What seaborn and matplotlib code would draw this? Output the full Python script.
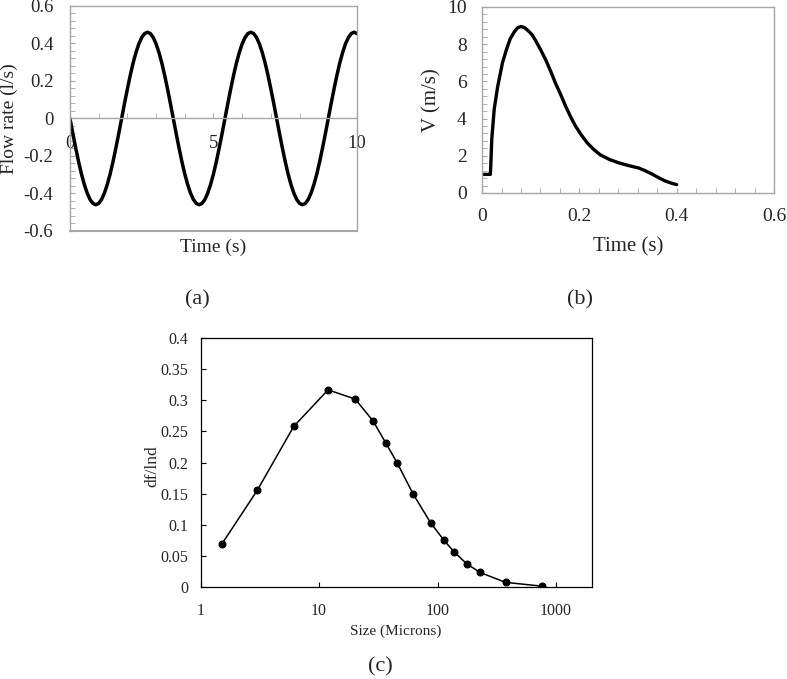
import numpy as np
import pandas as pd
import seaborn as sns
import matplotlib.pyplot as plt
from matplotlib.ticker import MultipleLocator, FuncFormatter, FixedLocator, NullLocator

sns.set_style("ticks")
plt.rcParams['font.family'] = ['Liberation Serif', 'DejaVu Serif']

# (a) oscillating flow rate, read every 0.1 s
time_a = np.round(np.arange(0, 10.01, 0.1), 1)
flow_a = [0, -0.080, -0.157, -0.23, -0.296, -0.352, -0.398, -0.432, -0.453, -0.46, -0.453, -0.432,
          -0.398, -0.352, -0.296, -0.23, -0.157, -0.080,
          0, 0.080, 0.157, 0.23, 0.296, 0.352, 0.398, 0.432, 0.453, 0.46, 0.453, 0.432,
          0.398, 0.352, 0.296, 0.23, 0.157, 0.080,
          0, -0.080, -0.157, -0.23, -0.296, -0.352, -0.398, -0.432, -0.453, -0.46, -0.453, -0.432,
          -0.398, -0.352, -0.296, -0.23, -0.157, -0.080,
          0, 0.080, 0.157, 0.23, 0.296, 0.352, 0.398, 0.432, 0.453, 0.46, 0.453, 0.432,
          0.398, 0.352, 0.296, 0.23, 0.157, 0.080,
          0, -0.080, -0.157, -0.23, -0.296, -0.352, -0.398, -0.432, -0.453, -0.46, -0.453, -0.432,
          -0.398, -0.352, -0.296, -0.23, -0.157, -0.080,
          0, 0.080, 0.157, 0.23, 0.296, 0.352, 0.398, 0.432, 0.453, 0.46, 0.453]

# (b) velocity pulse
time_b = [0.0, 0.017, 0.018, 0.020, 0.025, 0.032, 0.042, 0.050, 0.058, 0.066,
          0.073, 0.080, 0.087, 0.095, 0.103, 0.110, 0.120, 0.131, 0.141, 0.151,
          0.162, 0.172, 0.182, 0.192, 0.204, 0.216, 0.229, 0.243, 0.262, 0.281,
          0.300, 0.322, 0.335, 0.349, 0.363, 0.377, 0.390, 0.400]
vel_b = [1.0, 1.0, 1.5, 2.9, 4.5, 5.7, 7.0, 7.7, 8.3, 8.65,
         8.88, 8.95, 8.9, 8.72, 8.5, 8.2, 7.72, 7.15, 6.55, 5.9,
         5.27, 4.65, 4.1, 3.6, 3.12, 2.7, 2.35, 2.05, 1.8, 1.62,
         1.48, 1.34, 1.2, 1.02, 0.82, 0.64, 0.52, 0.45]

# (c) particle size distribution
size_c = [1.5, 3.0, 6.1, 11.9, 20.2, 28.5, 36.4, 45.7, 62.3, 87.3, 113, 138, 176, 228, 375, 755]
dfl_c = [0.068, 0.155, 0.258, 0.317, 0.302, 0.267, 0.232, 0.199, 0.149, 0.103, 0.075, 0.056,
         0.037, 0.023, 0.007, 0.001]

GRAY = '#a6a6a6'

fig = plt.figure(figsize=(7.87, 6.79), dpi=100)
ax_a = fig.add_axes([0.0889, 0.6598, 0.3647, 0.3314])
ax_b = fig.add_axes([0.6125, 0.7158, 0.371, 0.2739])
ax_c = fig.add_axes([0.255, 0.1359, 0.4968, 0.3659])

# ---- panel (a)
sns.lineplot(x=time_a, y=flow_a, ax=ax_a, color='black', lw=2.5, sort=False)
ax_a.set_xlim(0, 10)
ax_a.set_ylim(-0.6, 0.6)
ax_a.spines['bottom'].set_position(('data', 0))
for s in ax_a.spines.values():
    s.set_color(GRAY)
    s.set_linewidth(1)
ax_a.plot([0, 1], [0, 0], transform=ax_a.transAxes, color=GRAY, lw=1.5, clip_on=False)
ax_a.xaxis.set_major_locator(MultipleLocator(5))
ax_a.xaxis.set_minor_locator(MultipleLocator(1))
ax_a.yaxis.set_major_locator(MultipleLocator(0.2))
ax_a.yaxis.set_minor_locator(MultipleLocator(0.04))
ax_a.yaxis.set_major_formatter(FuncFormatter(lambda v, p: '0' if abs(v) < 1e-9 else f'{v:.1f}'))
ax_a.tick_params(which='both', direction='in', length=3.5, color=GRAY, labelsize=13.5)
ax_a.tick_params(axis='x', which='both', pad=12)
ax_a.tick_params(axis='y', which='both', pad=12)
ax_a.set_xlabel('Time (s)', fontsize=14)
ax_a.set_ylabel('Flow rate (l/s)', fontsize=14)
ax_a.xaxis.set_label_coords(0.5, -0.035)
ax_a.yaxis.set_label_coords(-0.18, 0.5)

# ---- panel (b)
sns.lineplot(x=time_b, y=vel_b, ax=ax_b, color='black', lw=2.4, sort=False)
ax_b.set_xlim(0, 0.6)
ax_b.set_ylim(0, 10)
for s in ax_b.spines.values():
    s.set_color(GRAY)
    s.set_linewidth(1)
ax_b.xaxis.set_major_locator(MultipleLocator(0.2))
ax_b.xaxis.set_minor_locator(MultipleLocator(0.04))
ax_b.yaxis.set_major_locator(MultipleLocator(2))
ax_b.yaxis.set_minor_locator(MultipleLocator(0.4))
ax_b.xaxis.set_major_formatter(FuncFormatter(lambda v, p: '0' if abs(v) < 1e-9 else f'{v:.1f}'))
ax_b.tick_params(which='both', direction='in', length=3.5, color=GRAY, labelsize=14)
ax_b.tick_params(axis='x', which='both', pad=11)
ax_b.tick_params(axis='y', which='both', pad=11)
ax_b.set_xlabel('Time (s)', fontsize=15)
ax_b.set_ylabel('V (m/s)', fontsize=15)
ax_b.xaxis.set_label_coords(0.5, -0.24)
ax_b.yaxis.set_label_coords(-0.138, 0.5)

# ---- panel (c)
df_c = pd.DataFrame({'size': size_c, 'dfl': dfl_c})
sns.lineplot(data=df_c, x='size', y='dfl', ax=ax_c, color='black', lw=1.1,
             marker='o', markersize=5, markeredgecolor='black')
ax_c.set_xscale('log')
ax_c.set_xlim(1, 2000)
ax_c.set_ylim(0, 0.4)
for s in ax_c.spines.values():
    s.set_color('black')
    s.set_linewidth(0.9)
ax_c.xaxis.set_major_locator(FixedLocator([1, 10, 100, 1000]))
ax_c.xaxis.set_minor_locator(NullLocator())
ax_c.xaxis.set_major_formatter(FuncFormatter(lambda v, p: f'{v:g}'))
ax_c.yaxis.set_major_locator(MultipleLocator(0.05))
ax_c.yaxis.set_major_formatter(FuncFormatter(lambda v, p: '0' if abs(v) < 1e-9 else f'{v:g}'))
ax_c.tick_params(direction='in', length=3.5, color='black', labelsize=11.5)
ax_c.tick_params(axis='x', pad=12)
ax_c.tick_params(axis='y', pad=9)
ax_c.set_xlabel('Size (Microns)', fontsize=11)
ax_c.set_ylabel('df/lnd', fontsize=12.5)
ax_c.xaxis.set_label_coords(0.5, -0.153)
ax_c.yaxis.set_label_coords(-0.102, 0.485)

# panel letters
fig.text(0.2503, 0.558, '(a)', fontsize=16, ha='center', va='center')
fig.text(0.737, 0.558, '(b)', fontsize=16, ha='center', va='center')
fig.text(0.483, 0.0185, '(c)', fontsize=16, ha='center', va='center')

fig.savefig('out.png', dpi=100)
plt.close(fig)
